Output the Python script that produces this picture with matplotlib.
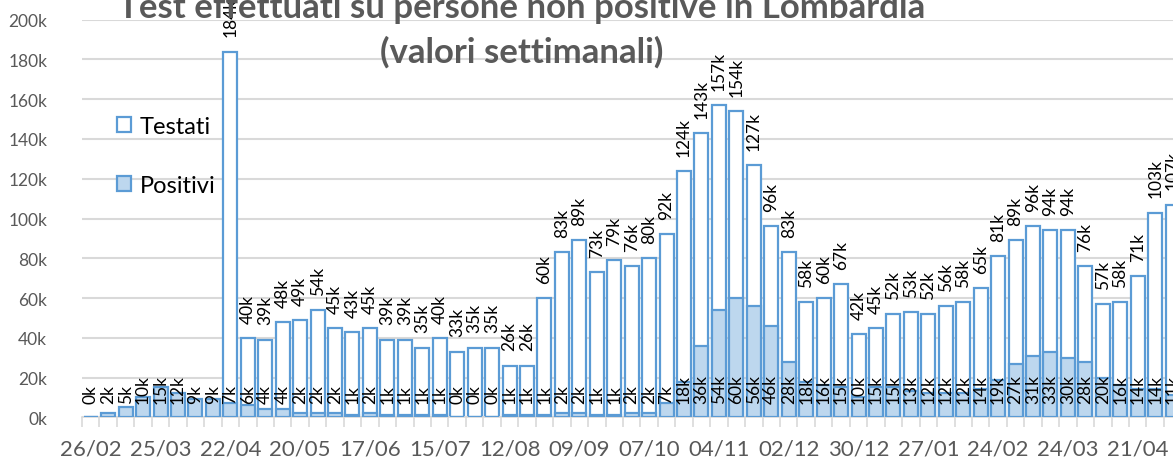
import matplotlib
matplotlib.use('Agg')
import matplotlib.pyplot as plt
from matplotlib.patches import Patch
import numpy as np

# weekly values in thousands, from 26/02/2020
testati = [0, 0, 0, 0, 0, 0, 0, 0, 184, 40, 39, 48, 49, 54, 45, 43, 45, 39, 39, 35, 40,
           33, 35, 35, 26, 26, 60, 83, 89, 73, 79, 76, 80, 92, 124, 143, 157, 154, 127,
           96, 83, 58, 60, 67, 42, 45, 52, 53, 52, 56, 58, 65, 81, 89, 96, 94, 94, 76,
           57, 58, 71, 103, 107]
positivi = [0, 2, 5, 10, 15, 12, 9, 9, 7, 6, 4, 4, 2, 2, 2, 1, 2, 1, 1, 1, 1, 0, 0, 0,
            1, 1, 1, 2, 2, 1, 1, 2, 2, 7, 18, 36, 54, 60, 56, 46, 28, 18, 16, 15, 10, 15,
            15, 13, 12, 12, 12, 14, 19, 27, 31, 33, 30, 28, 20, 16, 14, 14, 11]
tick_labels = ['26/02', '25/03', '22/04', '20/05', '17/06', '15/07', '12/08', '09/09',
               '07/10', '04/11', '02/12', '30/12', '27/01', '24/02', '24/03', '21/04']

blue = '#5B9BD5'
light = '#BDD7EE'
grey = '#595959'
plt.rcParams['font.family'] = ['Lato', 'DejaVu Sans']

W, H = 1173, 464
fig = plt.figure(figsize=(W / 100, H / 100), dpi=100)
n = len(testati)
step = 17.45
left_px, base_px, top_px = 82, 418.3, 20.7
ax = fig.add_axes([left_px / W, 1 - base_px / H, n * step / W, (base_px - top_px) / H])

x = np.arange(n)
t = np.array(testati) * 1000
p = np.array(positivi) * 1000
ax.bar(x, t, width=0.8, facecolor='white', edgecolor=blue, linewidth=1.6, zorder=2)
ax.bar(x, p, width=0.8, facecolor=light, edgecolor=blue, linewidth=1.6, zorder=3)

for i in range(n):
    if testati[i] > 0:
        ax.annotate(f'{testati[i]}k', (x[i], t[i]), xytext=(0, 11), textcoords='offset points',
                    rotation=90, ha='center', va='bottom', fontsize=12.5, color='black',
                    zorder=5, annotation_clip=False)
    ax.text(x[i], 7000, f'{positivi[i]}k', rotation=90, ha='center', va='bottom',
            fontsize=12.5, color='black', zorder=5)

ax.set_xlim(-0.5, n - 0.5)
ax.set_ylim(0, 200000)
ax.set_yticks(np.arange(0, 200001, 20000))
ax.set_yticklabels([f'{v}k' for v in range(0, 201, 20)])
ax.yaxis.grid(True, color='#D9D9D9', linewidth=1.5, zorder=0)
ax.set_axisbelow(True)
ax.tick_params(axis='y', length=0, pad=25, labelsize=12.5, labelcolor=grey)

ax.set_xticks(np.arange(-0.5, n, 1))
ax.set_xticklabels([])
ax.set_xticks(np.arange(0, n, 4), minor=True)
ax.set_xticklabels(tick_labels, minor=True)
ax.tick_params(axis='x', which='major', length=7, width=1.2, color='#D9D9D9')
ax.tick_params(axis='x', which='minor', length=0, pad=15, labelsize=16, labelcolor=grey)

for s in ['left', 'right', 'top']:
    ax.spines[s].set_visible(False)
ax.spines['bottom'].set_color('#D9D9D9')
ax.spines['bottom'].set_linewidth(1.2)

handles = [Patch(facecolor='white', edgecolor=blue, linewidth=1.6),
           Patch(facecolor=light, edgecolor=blue, linewidth=1.6)]
fig.legend(handles, ['Testati', 'Positivi'], loc='upper left',
           bbox_to_anchor=(117 / W, 1 - 117 / H), frameon=False, fontsize=17,
           handlelength=0.6, handleheight=0.6, handletextpad=0.35, labelspacing=1.6,
           borderpad=0, borderaxespad=0)

fig.text(522 / W, 1 - 18 / H, 'Test effettuati su persone non positive in Lombardia',
         ha='center', va='baseline', fontsize=25, fontweight='bold', color=grey, zorder=10)
fig.text(522 / W, 1 - 63 / H, '(valori settimanali)',
         ha='center', va='baseline', fontsize=25, fontweight='bold', color=grey, zorder=10)

fig.savefig('out.png', dpi=100)
